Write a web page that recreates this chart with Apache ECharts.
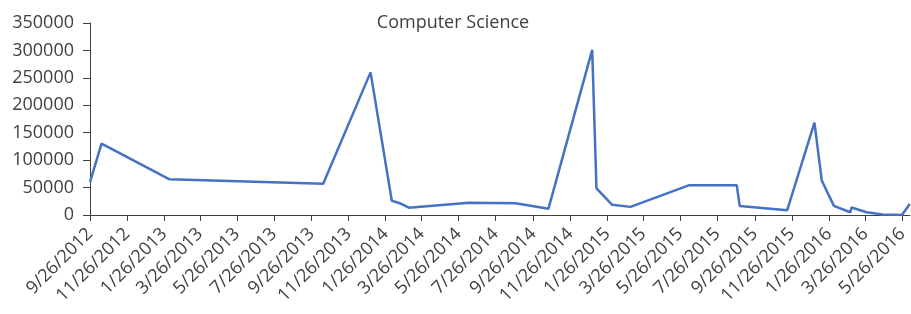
<!DOCTYPE html>
<html>
<head>
<meta charset="utf-8">
<script src="https://cdn.jsdelivr.net/npm/echarts@6/dist/echarts.min.js"></script>
<style>
  html, body { margin: 0; padding: 0; background: #fff; }
  #chart { width: 911px; height: 314px; }
</style>
</head>
<body>
<div id="chart"></div>
<script>
const dates = ['9/26/2012', '10/15/2012', '2/4/2013', '10/15/2013', '1/1/2014', '2/5/2014', '2/18/2014',
  '3/5/2014', '6/12/2014', '8/28/2014', '10/21/2014', '1/1/2015', '1/8/2015', '2/3/2015', '3/5/2015',
  '6/10/2015', '8/27/2015', '9/1/2015', '11/18/2015', '1/2/2016', '1/14/2016', '2/3/2016', '3/1/2016',
  '3/3/2016', '3/28/2016', '4/23/2016', '5/25/2016', '6/7/2016'];
const values = [60000, 130000, 65000, 57000, 260000, 26000, 21500, 13300, 22400, 21300, 11500, 301000,
  48700, 18500, 14800, 54400, 54400, 16200, 8500, 168500, 63000, 16700, 5000, 13600, 5000, 1000, 0, 20000];
const tickLabels = ['9/26/2012', '11/26/2012', '1/26/2013', '3/26/2013', '5/26/2013', '7/26/2013',
  '9/26/2013', '11/26/2013', '1/26/2014', '3/26/2014', '5/26/2014', '7/26/2014', '9/26/2014',
  '11/26/2014', '1/26/2015', '3/26/2015', '5/26/2015', '7/26/2015', '9/26/2015', '11/26/2015',
  '1/26/2016', '3/26/2016', '5/26/2016'];

function parse(s) {
  const p = s.split('/').map(Number);
  return Date.UTC(p[2], p[0] - 1, p[1]);
}
function fmt(v) {
  const d = new Date(v);
  return (d.getUTCMonth() + 1) + '/' + d.getUTCDate() + '/' + d.getUTCFullYear();
}

const ticks = tickLabels.map(parse);
const points = dates.map((d, i) => [parse(d), values[i]]);

const chart = echarts.init(document.getElementById('chart'));
const textColor = '#404040';
const font = 'Open Sans';

chart.setOption({
  animation: false,
  title: {
    text: 'Computer Science',
    left: 448,
    textAlign: 'center',
    top: 9,
    textStyle: { fontFamily: font, fontSize: 18, fontWeight: 'normal', color: textColor }
  },
  grid: { left: 90, right: 0, top: 23, bottom: 99 },
  xAxis: {
    type: 'value',
    min: ticks[0],
    max: parse(dates[dates.length - 1]),
    axisLine: { lineStyle: { color: '#404040', width: 1 } },
    axisTick: { show: true, length: 6, customValues: ticks, lineStyle: { color: '#404040' } },
    axisLabel: {
      customValues: ticks,
      rotate: 45,
      formatter: fmt,
      fontFamily: font,
      fontSize: 18,
      color: textColor,
      margin: 16
    },
    splitLine: { show: false }
  },
  yAxis: {
    type: 'value',
    min: 0,
    max: 350000,
    interval: 50000,
    axisLine: { show: true, lineStyle: { color: '#404040', width: 1 } },
    axisTick: { show: true, length: 7, lineStyle: { color: '#404040' } },
    axisLabel: { fontFamily: font, fontSize: 18, color: textColor, margin: 16, formatter: v => String(v) },
    splitLine: { show: false }
  },
  series: [{
    type: 'line',
    data: points,
    showSymbol: false,
    lineStyle: { color: '#4472C4', width: 2.5 },
    itemStyle: { color: '#4472C4' }
  }]
});
</script>
</body>
</html>
